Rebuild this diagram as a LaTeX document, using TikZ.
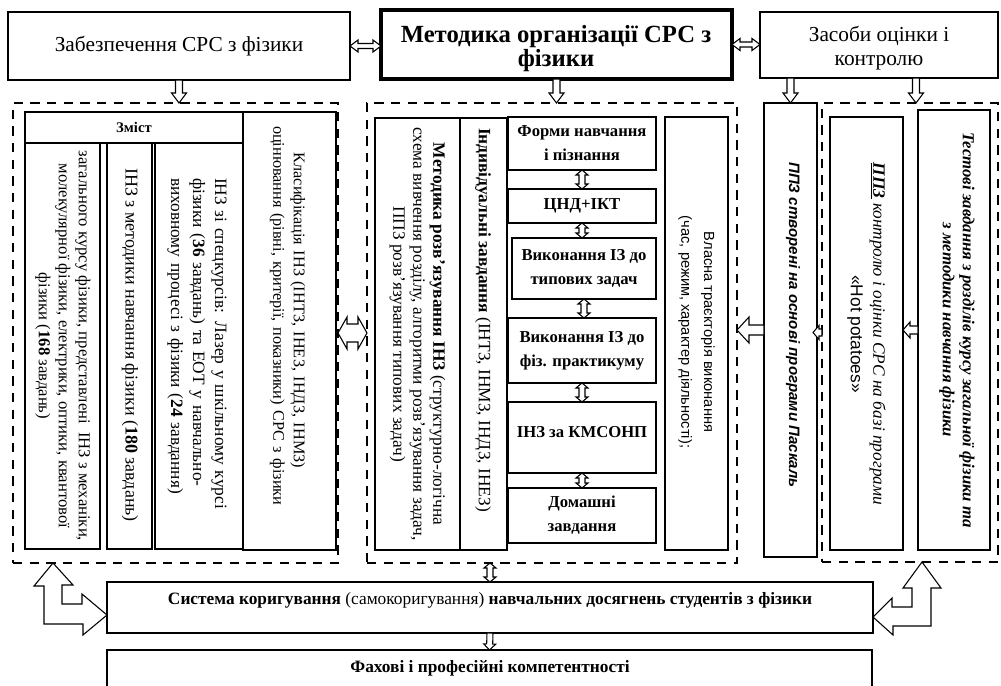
\documentclass[tikz,border=0pt]{standalone}
\usepackage{fontspec}
\setmainfont{Liberation Serif}
\setsansfont{Liberation Sans}
\usetikzlibrary{calc}
\tikzset{
  every node/.style={inner sep=0pt, outer sep=0pt},
  topbox/.style={draw, line width=1.6pt, align=center, font=\fontsize{16}{17.5}\selectfont},
  titlebox/.style={draw, line width=3pt, align=center},
  grp/.style={draw, line width=1.8pt, dash pattern=on 7pt off 5.5pt},
  inbox/.style={draw, line width=0.8pt, align=center},
  stackbox/.style={draw, line width=0.8pt, align=center, font=\bfseries\fontsize{12.5}{18}\selectfont},
  botbox/.style={draw, line width=1.8pt, align=center},
  blk/.style={draw, line width=0.8pt, fill=white, line join=miter},
  vtext/.style={rotate=-90},
}
% box from corners (pixel units)
\newcommand\bx[7]{\node[#6, minimum width={(#4-#2)*0.75pt}, minimum height={(#5-#3)*0.75pt}] (#1) at ({(#2+#4)/2},{(#3+#5)/2}) {#7};}
% hollow single-headed block arrow from #1 to #2
\newcommand\sarrow[5]{%
\draw[blk] let \p1=(#1), \p2=(#2), \n1={atan2(\y2-\y1,\x2-\x1)}, \n2={veclen(\x2-\x1,\y2-\y1)-#5*0.75} in
 ($(\p1)+({\n1+90}:{#3*0.75pt})$)
 -- ($(\p1)+(\n1:{\n2*1pt})+({\n1+90}:{#3*0.75pt})$)
 -- ($(\p1)+(\n1:{\n2*1pt})+({\n1+90}:{#4*0.75pt})$)
 -- (\p2)
 -- ($(\p1)+(\n1:{\n2*1pt})+({\n1-90}:{#4*0.75pt})$)
 -- ($(\p1)+(\n1:{\n2*1pt})+({\n1-90}:{#3*0.75pt})$)
 -- ($(\p1)+({\n1-90}:{#3*0.75pt})$) -- cycle;}
% hollow double-headed block arrow
\newcommand\darrow[5]{%
\draw[blk] let \p1=(#1), \p2=(#2), \n1={atan2(\y2-\y1,\x2-\x1)}, \n2={veclen(\x2-\x1,\y2-\y1)-#5*0.75}, \n3={#5*0.75} in
 (\p1)
 -- ($(\p1)+(\n1:{\n3*1pt})+({\n1+90}:{#4*0.75pt})$)
 -- ($(\p1)+(\n1:{\n3*1pt})+({\n1+90}:{#3*0.75pt})$)
 -- ($(\p1)+(\n1:{\n2*1pt})+({\n1+90}:{#3*0.75pt})$)
 -- ($(\p1)+(\n1:{\n2*1pt})+({\n1+90}:{#4*0.75pt})$)
 -- (\p2)
 -- ($(\p1)+(\n1:{\n2*1pt})+({\n1-90}:{#4*0.75pt})$)
 -- ($(\p1)+(\n1:{\n2*1pt})+({\n1-90}:{#3*0.75pt})$)
 -- ($(\p1)+(\n1:{\n3*1pt})+({\n1-90}:{#3*0.75pt})$)
 -- ($(\p1)+(\n1:{\n3*1pt})+({\n1-90}:{#4*0.75pt})$)
 -- cycle;}
\begin{document}
\begin{tikzpicture}[x=0.75pt,y=-0.75pt]
\fill[white] (0,0) rectangle (1001,686);
\useasboundingbox (0,0) rectangle (1001,686);
\clip (0,0) rectangle (1001,686);

% top row
\bx{A}{8}{12}{350}{80}{topbox}{Забезпечення СРС з фізики}
\bx{B}{381}{10}{732}{79}{titlebox}{}
\node[align=center, font=\bfseries\fontsize{18.5}{18}\selectfont] (Bt) at (556,49) {Методика організації СРС з\\фізики};
\bx{C}{760}{12}{998}{78}{topbox}{}
\node[align=center, font=\fontsize{16}{17.5}\selectfont] (Ct) at (879,48) {Засоби оцінки і\\контролю};

% dashed groups
\bx{L}{13}{103}{338}{563}{grp}{}
\bx{M}{367}{103}{737}{563}{grp}{}
\bx{R}{822}{103}{998}{562}{grp}{}

% left group
\bx{Z}{25}{112}{243}{143}{inbox}{\bfseries\fontsize{11}{13}\selectfont Зміст}
\bx{c1}{25}{143}{100}{549}{inbox}{}
\bx{c2}{107}{143}{152}{549}{inbox}{}
\bx{c3}{155}{143}{243}{549}{inbox, line width=1.1pt}{}
\bx{c4}{243}{112}{336}{550}{inbox}{}
\node[vtext, align=center, font=\fontsize{12.5}{15}\selectfont] (c1t) at (63,346) {загального курсу фізики, представлені \ ІНЗ з механіки,\\молекулярної фізики, електрики, оптики, квантової\\фізики (\textbf{168} завдань)};
\node[vtext, font=\fontsize{13.5}{16}\selectfont] (c2t) at (130,345) {ІНЗ з методики навчання фізики (\textbf{180} завдань)};
\node[vtext, align=left, text width=255pt, font=\fontsize{13}{16.5}\selectfont] (c3t) at (197,348) {ІНЗ зі спецкурсів: Лазер у шкільному курсі\\фізики (\textbf{36} завдань) та ЕОТ у навчально-\\виховному процесі з фізики (\textbf{24} завдання)};
\node[vtext, align=left, text width=306pt, font=\fontsize{12.2}{15.5}\selectfont] (c4t) at (287.5,330) {\hspace*{20pt}Класифікація ІНЗ (ІНТЗ, ІНЕЗ, ІНДЗ, ІНМЗ)\\оцінювання (рівні, критерії, показники) СРС з фізики};

% middle group
\bx{m1}{375}{118}{460}{550}{inbox}{}
\bx{m2}{460}{118}{507}{550}{inbox}{}
\bx{s1}{508}{117}{656}{170}{stackbox}{Форми навчання\\і пізнання}
\bx{s2}{508}{189}{656}{223}{stackbox}{ЦНД+ІКТ}
\bx{s3}{512}{238}{656}{299}{stackbox}{Виконання ІЗ до\\типових задач}
\bx{s4}{508}{318}{656}{383}{stackbox}{Виконання ІЗ до\\фіз. практикуму}
\bx{s5}{508}{402}{656}{473}{stackbox}{}
\node[font=\bfseries\fontsize{12.5}{16.5}\selectfont] (s5t) at (582,432) {ІНЗ за КМСОНП};
\bx{s6}{508}{488}{656}{543}{stackbox}{Домашні\\завдання}
\bx{m4}{665}{117}{728}{550}{inbox}{}
\node[vtext, align=center, font=\fontsize{13}{15}\selectfont] (m1t) at (417.5,334) {\textbf{Методика розв'язування ІНЗ} (структурно-логічна\\схема вивчення розділу, алгоритми розв'язування задач,\\ППЗ розв'язування типових задач)};
\node[vtext, font=\fontsize{13}{15}\selectfont] (m2t) at (483,320) {\textbf{Індивідуальні завдання} (ІНТЗ, ІНМЗ, ІНДЗ, ІНЕЗ)};
\node[vtext, align=center, font=\sffamily\fontsize{11}{17}\selectfont] (m4t) at (696.5,332) {Власна траєкторія виконання\\(час, режим, характер діяльності);};

% right column and group
\bx{r1}{764}{103}{817}{557}{inbox}{}
\node[vtext, font=\sffamily\bfseries\itshape\fontsize{11.3}{13}\selectfont] (r1t) at (793,325) {ППЗ створені на основі програми Паскаль};
\bx{r2}{830}{117}{903}{550}{inbox}{}
\node[vtext, align=center, font=\itshape\fontsize{13}{17}\selectfont] (r2t) at (866.5,334) {\underline{\textbf{ППЗ}} контролю і оцінки СРС на базі програми\\{\upshape\sffamily «Hot potatoes»}};
\bx{r3}{918}{110}{990}{550}{inbox}{}
\node[vtext, align=center, font=\bfseries\itshape\fontsize{12.6}{15}\selectfont] (r3t) at (957,330) {Тестові завдання з розділів курсу загальної фізики та\\з методики навчання фізики};

% bottom
\bx{S}{107}{582}{873}{633}{botbox}{}
\node[font=\fontsize{13}{15}\selectfont] (St) at (490,600) {\textbf{Система коригування} (самокоригування) \textbf{навчальних досягнень студентів з фізики}};
\bx{F}{107}{650}{872}{695}{botbox}{}
\node[font=\bfseries\fontsize{13}{15}\selectfont] (Ft) at (490,668) {Фахові і професійні компетентності};

% arrows
\darrow{A.east}{B.west |- A.east}{2.5}{6}{8}
\darrow{B.east}{C.west |- B.east}{2.5}{6}{8}
\sarrow{A.south}{A.south |- L.north}{3.5}{7.5}{10}
\sarrow{B.south}{B.south |- M.north}{3.5}{7.5}{10}
\sarrow{C.south -| r1.north}{r1.north}{3.5}{7.5}{10}
\sarrow{$(C.south -| R.north)+(6,0)$}{$(R.north)+(6,0)$}{3.5}{7.5}{10}
\darrow{L.east}{M.west |- L.east}{9}{16}{9}
\sarrow{r1.west}{M.east |- r1.west}{5}{13}{12}
\sarrow{R.west}{$(r1.east |- R.west)+(-4,0)$}{3.5}{7}{6}
\sarrow{r3.west}{r2.east |- r3.west}{4}{8}{7}
\darrow{s1.south}{s1.south |- s2.north}{3}{6}{5}
\darrow{s2.south}{s2.south |- s3.north}{3}{6}{5}
\darrow{s3.south}{s3.south |- s4.north}{3}{6}{5}
\darrow{s4.south}{s4.south |- s5.north}{3}{6}{5}
\darrow{s5.south}{s5.south |- s6.north}{3}{6}{5}
\darrow{S.north |- M.south}{S.north}{3}{6}{5}
\sarrow{S.south}{F.north}{3}{6}{6}

% bent arrows
\coordinate (x53) at (53,0);
\coordinate (y615) at (0,615);
\coordinate (x922) at (922,0);
\coordinate (y617) at (0,617);
\coordinate (lt) at (L.south -| x53);
\coordinate (lr) at (S.west |- y615);
\coordinate (rt) at (R.south -| x922);
\coordinate (rr) at (S.east |- y617);
\draw[blk] (lt) -- ++(20,22) -- ++(-11,0) -- ++(0,19) -- ++(20,0) -- ++(0,-10) -- (lr)
  -- ++(-24,20) -- ++(0,-11) -- ++(-39,0) -- ++(0,-38) -- ++(-10,0) -- cycle;
\draw[blk] (rt) -- ++(19,26) -- ++(-10,0) -- ++(0,38) -- ++(-38,0) -- ++(0,9) -- (rr)
  -- ++(19,-19) -- ++(0,9) -- ++(20,0) -- ++(0,-19) -- ++(-9,0) -- cycle;
\end{tikzpicture}
\end{document}
